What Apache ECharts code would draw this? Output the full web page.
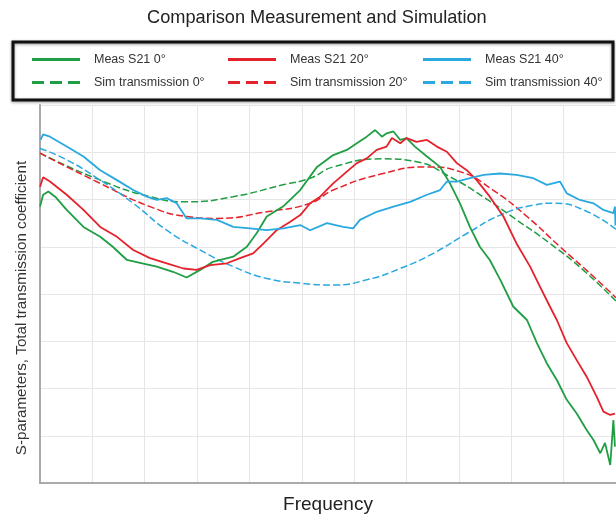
<!DOCTYPE html>
<html>
<head>
<meta charset="utf-8">
<script src="https://cdn.jsdelivr.net/npm/echarts@6/dist/echarts.min.js"></script>
<style>
html, body { margin: 0; padding: 0; background: #fff; }
#chart { width: 616px; height: 516px; }
</style>
</head>
<body>
<div id="chart"></div>
<script>
// [frequency, value] pairs (arbitrary units)
const measS21_0 = [
  [0, 5.85], [0.06, 6.10], [0.16, 6.17], [0.29, 6.06], [0.51, 5.78], [0.83, 5.42],
  [1.15, 5.21], [1.39, 5.00], [1.66, 4.72], [1.91, 4.66], [2.23, 4.58], [2.54, 4.47],
  [2.80, 4.35], [3.06, 4.51], [3.30, 4.68], [3.69, 4.79], [3.95, 5.00], [4.14, 5.29],
  [4.33, 5.64], [4.64, 5.85], [4.97, 6.20], [5.29, 6.69], [5.60, 6.94], [5.86, 7.05],
  [6.05, 7.19], [6.24, 7.33], [6.40, 7.47], [6.53, 7.33], [6.62, 7.40], [6.75, 7.44],
  [6.88, 7.26], [7.00, 7.30], [7.16, 7.12], [7.39, 6.91], [7.64, 6.69], [7.83, 6.34],
  [8.02, 5.92], [8.21, 5.42], [8.40, 5.00], [8.59, 4.72], [8.79, 4.30], [9.04, 3.73],
  [9.30, 3.45], [9.49, 2.96], [9.68, 2.53], [9.87, 2.18], [10.06, 1.76], [10.25, 1.47],
  [10.44, 1.12], [10.57, 0.91], [10.70, 0.63], [10.79, 0.85], [10.89, 0.38],
  [10.95, 1.33], [10.98, 0.77]
];
const measS21_20 = [
  [0, 6.27], [0.06, 6.47], [0.19, 6.38], [0.51, 6.10], [0.83, 5.78], [1.15, 5.42],
  [1.47, 5.21], [1.78, 4.93], [2.10, 4.76], [2.42, 4.65], [2.74, 4.54], [2.99, 4.51],
  [3.25, 4.61], [3.57, 4.65], [3.82, 4.76], [4.07, 4.86], [4.27, 5.07], [4.52, 5.35],
  [4.78, 5.53], [4.97, 5.67], [5.16, 5.92], [5.35, 6.06], [5.60, 6.34], [5.86, 6.59],
  [6.05, 6.77], [6.24, 6.87], [6.43, 7.05], [6.62, 7.12], [6.72, 7.30], [6.88, 7.19],
  [7.00, 7.30], [7.19, 7.22], [7.39, 7.26], [7.58, 7.12], [7.77, 7.01], [7.96, 6.77],
  [8.15, 6.62], [8.34, 6.41], [8.59, 6.06], [8.85, 5.64], [9.10, 5.07], [9.36, 4.58],
  [9.55, 4.15], [9.74, 3.73], [9.87, 3.45], [10.06, 2.96], [10.25, 2.60], [10.44, 2.25],
  [10.63, 1.83], [10.76, 1.51], [10.89, 1.44], [10.98, 1.47]
];
const measS21_40 = [
  [0.01, 7.26], [0.06, 7.38], [0.19, 7.33], [0.51, 7.12], [0.83, 6.91], [1.15, 6.62],
  [1.47, 6.41], [1.78, 6.20], [2.04, 6.06], [2.23, 5.99], [2.42, 6.03], [2.61, 5.92],
  [2.80, 5.60], [3.06, 5.60], [3.38, 5.57], [3.69, 5.42], [4.01, 5.39], [4.33, 5.35],
  [4.65, 5.39], [4.97, 5.46], [5.16, 5.35], [5.48, 5.50], [5.79, 5.42], [5.98, 5.39],
  [6.11, 5.57], [6.43, 5.74], [6.75, 5.85], [7.07, 5.95], [7.39, 6.10], [7.64, 6.20],
  [7.77, 6.38], [7.96, 6.38], [8.21, 6.45], [8.47, 6.52], [8.79, 6.55], [9.10, 6.52],
  [9.42, 6.45], [9.68, 6.31], [9.93, 6.38], [10.06, 6.13], [10.31, 5.99], [10.57, 5.92],
  [10.76, 5.78], [10.95, 5.71], [10.98, 5.85], [10.99, 5.45]
];
const simTrans_0 = [
  [0, 6.98], [1.15, 6.41], [2.10, 6.06], [2.80, 5.95], [3.69, 6.06], [4.64, 6.31],
  [5.16, 6.45], [5.60, 6.69], [6.55, 6.86], [7.19, 6.80], [7.83, 6.48], [8.46, 6.06],
  [9.10, 5.57], [9.74, 5.07], [10.37, 4.51], [11, 3.85]
];
const simTrans_20 = [
  [0, 6.98], [1.15, 6.34], [2.10, 5.85], [2.80, 5.64], [3.38, 5.60], [4.33, 5.74],
  [5.16, 5.92], [5.60, 6.20], [6.55, 6.55], [7.39, 6.69], [8.02, 6.59], [8.65, 6.20],
  [9.30, 5.64], [9.93, 5.00], [10.57, 4.37], [11, 3.92]
];
const simTrans_40 = [
  [0, 7.08], [0.51, 6.84], [1.15, 6.41], [1.78, 5.92], [2.42, 5.35], [3.06, 4.93],
  [3.69, 4.58], [4.33, 4.33], [4.97, 4.23], [5.60, 4.19], [6.24, 4.30], [6.88, 4.54],
  [7.51, 4.86], [8.15, 5.28], [8.79, 5.67], [9.42, 5.88], [9.80, 5.92], [10.38, 5.78],
  [11, 5.37]
];
const legendRows = [
  ['Meas S21 0°', 'Sim transmission 0°'],
  ['Meas S21 20°', 'Sim transmission 20°'],
  ['Meas S21 40°', 'Sim transmission 40°']
];
const GREEN = '#1f9e44';
const RED = '#e5222b';
const BLUE = '#2aa8e0';

// legend icons: solid bar for measurement, three dashes for simulation
const SOLID_ICON = 'path://M0,0h48v3h-48z';
const DASH_ICON = 'path://M0,0h12v3h-12zM18,0h12v3h-12zM36,0h12v3h-12z';

const chart = echarts.init(document.getElementById('chart'));

function measLine (name, data, color) {
  return {
    name: name, type: 'line', data: data, symbol: 'none',
    lineStyle: { color: color, width: 1.8 }, itemStyle: { color: color }, z: 3
  };
}
function simLine (name, data, color) {
  return {
    name: name, type: 'line', data: data, symbol: 'none', smooth: 0.5,
    lineStyle: { color: color, width: 1.5, type: [7, 3] }, itemStyle: { color: color }, z: 2
  };
}

const legendLeft = [27, 223, 418];
const legends = legendRows.map((row, i) => ({
  id: 'lg' + i,
  data: [{ name: row[0], icon: SOLID_ICON }, { name: row[1], icon: DASH_ICON }],
  orient: 'vertical',
  left: legendLeft[i],
  top: 48,
  itemWidth: 48,
  itemHeight: 3,
  itemGap: 10,
  textStyle: { fontFamily: 'Liberation Sans', fontSize: 12.5, color: '#333', padding: [0, 0, 0, 9] },
  selectedMode: false
}));

chart.setOption({
  animation: false,
  backgroundColor: '#fff',
  title: {
    text: 'Comparison Measurement and Simulation',
    left: 147,
    top: 9,
    padding: 0,
    textStyle: { fontFamily: 'Liberation Sans', fontSize: 18.2, fontWeight: 'normal', color: '#222' }
  },
  graphic: [{
    type: 'rect',
    shape: { x: 13, y: 42, width: 600, height: 58 },
    style: { fill: 'none', stroke: '#111', lineWidth: 3, shadowBlur: 3, shadowColor: 'rgba(0,0,0,0.4)', shadowOffsetY: 1 },
    z: 10
  }],
  legend: legends,
  grid: { left: 40, right: 0, top: 105, bottom: 33, outerBoundsMode: 'none' },
  xAxis: {
    type: 'value', min: 0, max: 11, interval: 1,
    name: 'Frequency', nameLocation: 'middle', nameGap: 12,
    nameTextStyle: { fontFamily: 'Liberation Sans', fontSize: 19, color: '#222', verticalAlign: 'top' },
    axisLine: { lineStyle: { color: '#aaa', width: 2 } },
    axisTick: { show: false }, axisLabel: { show: false },
    splitLine: { lineStyle: { color: '#e6e6e6', width: 1 } }
  },
  yAxis: {
    type: 'value', min: 0, max: 8, interval: 1,
    name: 'S-parameters, Total transmission coefficient', nameLocation: 'middle', nameGap: 11,
    nameTextStyle: { fontFamily: 'Liberation Sans', fontSize: 15.2, color: '#333', padding: [0, 28, 0, 0] },
    axisLine: { show: true, lineStyle: { color: '#aaa', width: 2 } },
    axisTick: { show: false }, axisLabel: { show: false },
    splitLine: { lineStyle: { color: '#e6e6e6', width: 1 } }
  },
  series: [
    measLine('Meas S21 0°', measS21_0, GREEN),
    simLine('Sim transmission 0°', simTrans_0, GREEN),
    measLine('Meas S21 20°', measS21_20, RED),
    simLine('Sim transmission 20°', simTrans_20, RED),
    measLine('Meas S21 40°', measS21_40, BLUE),
    simLine('Sim transmission 40°', simTrans_40, BLUE)
  ]
});
</script>
</body>
</html>
